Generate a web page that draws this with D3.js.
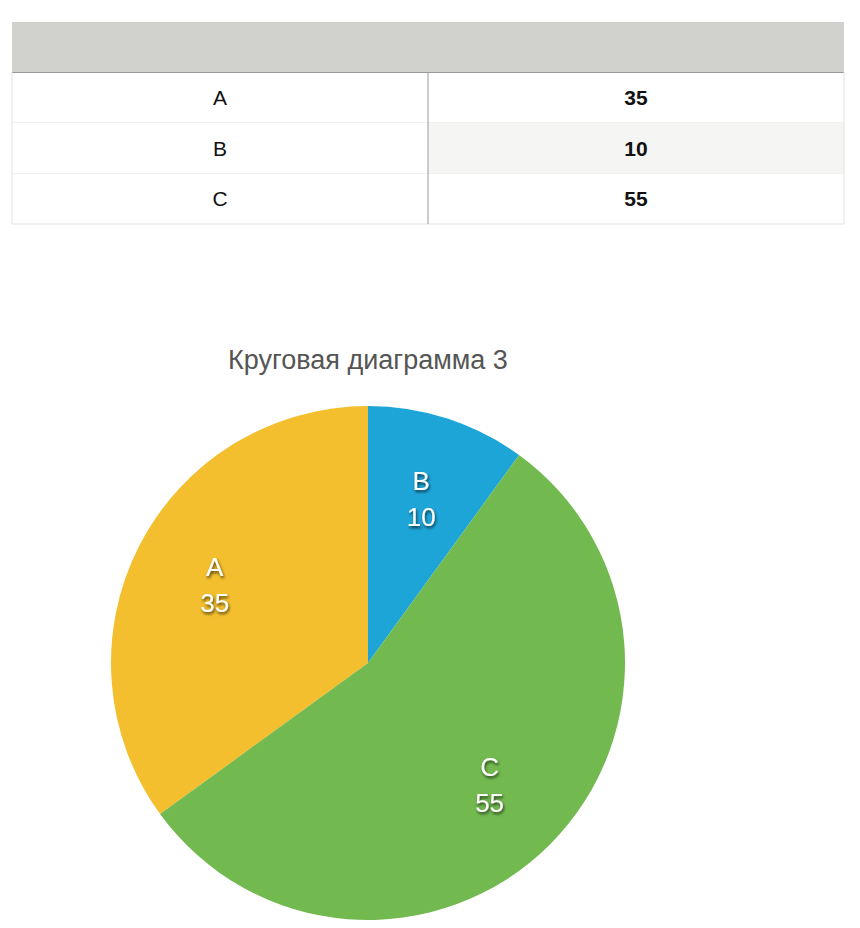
<!DOCTYPE html>
<html><head><meta charset="utf-8">
<script src="https://cdn.jsdelivr.net/npm/d3@7"></script>
<style>body{margin:0;background:#fff}</style>
</head><body>
<svg id="c" width="860" height="928"></svg>
<script>
const categories = ["A","B","C"];
const values = [35,10,55];
const colors = ["#f3bf2e","#1ea5d8","#72b94f"];
const title = "Круговая диаграмма 3";

const svg = d3.select("#c");
const font = "Helvetica, 'Liberation Sans', Arial, sans-serif";
// table
const x = d3.scaleLinear().domain([0,2]).range([12,844]);
const rowY = d3.scaleLinear().domain([0,4]).range([22,224]);
svg.append("rect").attr("x",x(0)).attr("y",rowY(0)).attr("width",x(2)-x(0)).attr("height",rowY(1)-rowY(0)).attr("fill","#d1d1cd");
categories.forEach((c,i)=>{
  const y0=rowY(i+1), h=rowY(i+2)-y0;
  svg.append("rect").attr("x",x(0)).attr("y",y0).attr("width",x(1)-x(0)).attr("height",h).attr("fill","#fff");
  svg.append("rect").attr("x",x(1)).attr("y",y0).attr("width",x(2)-x(1)).attr("height",h).attr("fill",i===1?"#f5f5f3":"#fff");
  svg.append("line").attr("x1",x(0)).attr("x2",x(2)).attr("y1",y0+h).attr("y2",y0+h).attr("stroke","#e2e2e2");
  svg.append("text").attr("x",(x(0)+x(1))/2).attr("y",y0+h/2).attr("dy","0.36em").attr("text-anchor","middle")
    .attr("font-family",font).attr("font-size",21).attr("fill","#111").text(c);
  svg.append("text").attr("x",(x(1)+x(2))/2).attr("y",y0+h/2).attr("dy","0.36em").attr("text-anchor","middle")
    .attr("font-family",font).attr("font-size",21).attr("font-weight","bold").attr("fill","#111").text(values[i]);
});
svg.append("line").attr("x1",x(0)).attr("x2",x(2)).attr("y1",rowY(1)).attr("y2",rowY(1)).attr("stroke","#9a9a9a");
svg.append("line").attr("x1",x(1)).attr("x2",x(1)).attr("y1",rowY(1)).attr("y2",rowY(4)).attr("stroke","#9a9a9a");
svg.append("line").attr("x1",x(0)).attr("x2",x(0)).attr("y1",rowY(1)).attr("y2",rowY(4)).attr("stroke","#e2e2e2");
svg.append("line").attr("x1",x(2)).attr("x2",x(2)).attr("y1",rowY(1)).attr("y2",rowY(4)).attr("stroke","#e2e2e2");

// title
svg.append("text").attr("x",368).attr("y",369).attr("text-anchor","middle").attr("font-family",font)
  .attr("font-size",27).attr("fill","#555").text(title);

// pie
const defs = svg.append("defs");
const f = defs.append("filter").attr("id","sh").attr("x","-20%").attr("y","-20%").attr("width","140%").attr("height","140%");
f.append("feDropShadow").attr("dx",1).attr("dy",2).attr("stdDeviation",1.5).attr("flood-color","#000").attr("flood-opacity",0.7);
const R = 257;
const g = svg.append("g").attr("transform","translate(368,663)");
const startA = -values[0]/d3.sum(values)*2*Math.PI;
const pie = d3.pie().sort(null).startAngle(startA).endAngle(startA+2*Math.PI);
const arcs = pie(values);
const arc = d3.arc().innerRadius(0).outerRadius(R);
const lab = d3.arc().innerRadius(172).outerRadius(172);
g.selectAll("path").data(arcs).join("path").attr("d",arc).attr("fill",(d,i)=>colors[i]);
arcs.forEach((d,i)=>{
  const [cx,cy]=lab.centroid(d);
  const t=g.append("text").attr("text-anchor","middle").attr("font-family",font).attr("font-size",26)
    .attr("fill","#fff").attr("filter","url(#sh)");
  t.append("tspan").attr("x",cx).attr("y",cy-9).text(categories[i]);
  t.append("tspan").attr("x",cx).attr("y",cy+27).text(values[i]);
});
</script>
</body></html>
